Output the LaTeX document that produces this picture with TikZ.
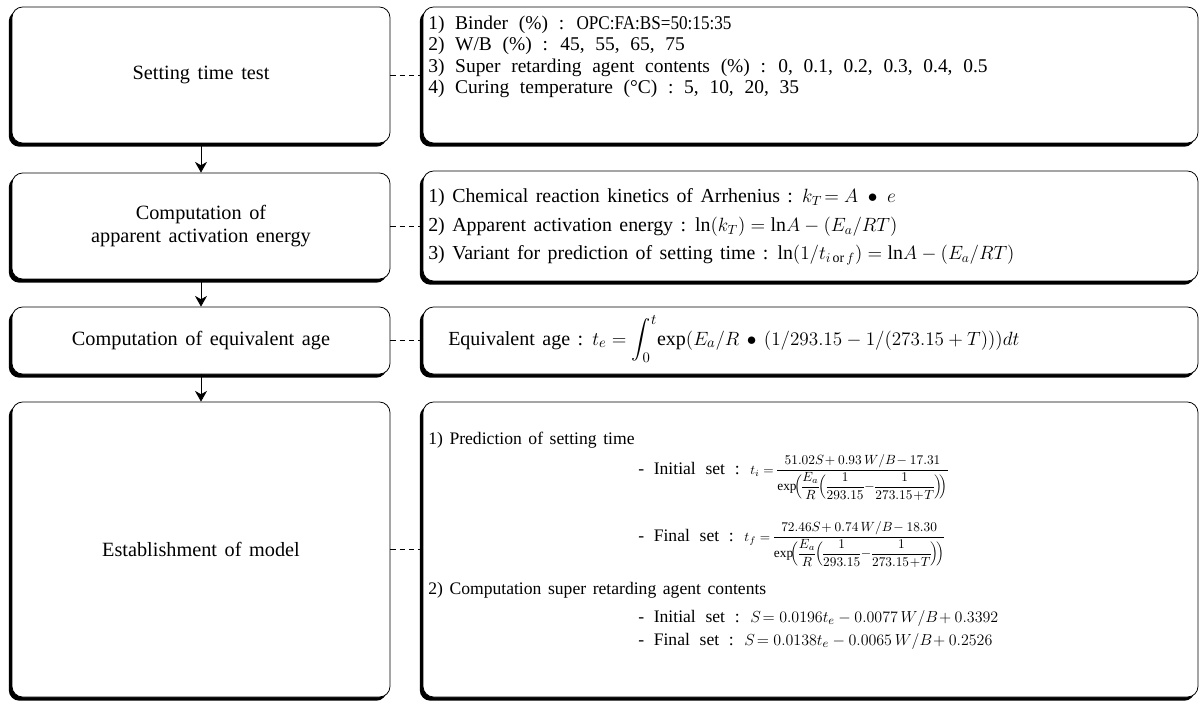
\documentclass[tikz,border=0pt]{standalone}
\usepackage{amsmath}
\usepackage{graphicx}
\usepackage{fontspec}
\setmainfont{Liberation Serif}[WordSpace=1.5]
\newfontfamily\wideserif{Liberation Serif}[WordSpace=2.2]
\usetikzlibrary{arrows.meta,shadows,positioning}

\newcommand{\stagefont}{\fontsize{15.2}{17}\selectfont}
\newcommand{\eqfont}{\fontsize{10}{11}\selectfont\nulldelimiterspace=0pt}
\newcommand{\setgap}{\hspace{8pt}}

\begin{document}
\begin{tikzpicture}[x=0.75pt,y=-0.75pt,
  stage/.style={draw,line width=0.6pt,rounded corners=8pt,fill=white,
    drop shadow={shadow xshift=-2.4pt,shadow yshift=-2.8pt,fill=black,opacity=1},
    minimum width=283.5pt,inner sep=0pt,align=center,font=\stagefont},
  info/.style={draw,line width=0.6pt,rounded corners=8pt,fill=white,
    drop shadow={shadow xshift=-2.4pt,shadow yshift=-2.8pt,fill=black,opacity=1},
    minimum width=581.25pt,inner sep=0pt},
  item/.style={anchor=base west,inner sep=0pt},
  testline/.style={item,font=\wideserif\fontsize{14.6}{16}\selectfont},
  rateline/.style={item,font=\fontsize{14.9}{17}\selectfont},
  ageline/.style={item,font=\fontsize{15}{17}\selectfont},
  modelline/.style={item,font=\fontsize{13.2}{15}\selectfont},
  setline/.style={item,font=\wideserif\fontsize{13.2}{15}\selectfont},
  flow/.style={-{Stealth[length=8pt,width=9pt,inset=2.5pt]},line width=0.6pt},
  link/.style={dash pattern=on 4pt off 3pt,line width=0.6pt}]
  \useasboundingbox (0,0) rectangle (1203,702);

  % stages
  \node[stage,minimum height=102pt] (b1) at (201,75) {Setting time test};
  \node[stage,minimum height=79.5pt] (b2) at (201,226) {Computation of\\apparent activation energy};
  \node[stage,minimum height=50.25pt] (b3) at (201,340.5) {Computation of equivalent age};
  \node[stage,minimum height=221.25pt] (b4) at (201,549.5) {Establishment of model};

  % details
  \node[info,minimum height=102pt] (r1) at (810.5,75) {};
  \node[info,minimum height=82.5pt] (r2) at (810.5,226) {};
  \node[info,minimum height=50.25pt] (r3) at (810.5,340.5) {};
  \node[info,minimum height=221.25pt] (r4) at (810.5,549.5) {};

  \node[testline] (r1a) at (428,29.5) {1) Binder (\%) : \scalebox{0.88}[1]{OPC:FA:BS=50:15:35}};
  \node[testline] (r1b) at (428,51) {2) W/B (\%) : 45, 55, 65, 75};
  \node[testline] (r1c) at (428,72.5) {3) Super retarding agent contents (\%) : 0, 0.1, 0.2, 0.3, 0.4, 0.5};
  \node[testline] (r1d) at (428,94) {4) Curing temperature (°C) : 5, 10, 20, 35};

  \node[rateline] (r2a) at (428,203) {1) Chemical reaction kinetics of Arrhenius : $k_T\!= A\;\bullet\; e$};
  \node[rateline] (r2b) at (428,232) {2) Apparent activation energy : $\mathrm{ln}(k_T) = \mathrm{ln}A - (E_a/RT)$};
  \node[rateline] (r2c) at (428,260) {3) Variant for prediction of setting time : $\mathrm{ln}(1/t_{i\,\mathrm{or}\,f}) = \mathrm{ln}A - (E_a/RT)$};

  \node[ageline] (r3a) at (448,345) {Equivalent age : $t_e = \displaystyle\int_0^t \!\exp(E_a/R \,\bullet\, (1/293.15 - 1/(273.15 + T)))dt$};

  \node[modelline] (r4a) at (428,444) {1) Prediction of setting time};
  \node[setline] (r4b) at (638,474) {- Initial set :\setgap{\eqfont$t_i = \dfrac{51.02S\!+0.93\,W/B\!-17.31}{\exp\!\Bigl(\dfrac{E_a}{R}\Bigl(\dfrac{1}{293.15}\!-\!\dfrac{1}{273.15\!+\!T}\Bigr)\!\Bigr)}$}};
  \node[setline] (r4c) at (638,541) {- Final set :\setgap{\eqfont$t_f = \dfrac{72.46S\!+0.74\,W/B\!-18.30}{\exp\!\Bigl(\dfrac{E_a}{R}\Bigl(\dfrac{1}{293.15}\!-\!\dfrac{1}{273.15\!+\!T}\Bigr)\!\Bigr)}$}};
  \node[modelline] (r4d) at (428,594) {2) Computation super retarding agent contents};
  \node[setline] (r4e) at (638,622) {- Initial set :\setgap$S\!= 0.0196t_e - 0.0077\,W/B\!+ 0.3392$};
  \node[setline] (r4f) at (638,645) {- Final set :\setgap$S\!= 0.0138t_e - 0.0065\,W/B\!+ 0.2526$};

  % connectors
  \draw[flow] (b1.south) -- (b2.north);
  \draw[flow] (b2.south) -- (b3.north);
  \draw[flow] (b3.south) -- (b4.north);
  \foreach \i in {1,...,4}
    \draw[link] (b\i.east) -- (r\i.west);
\end{tikzpicture}
\end{document}
